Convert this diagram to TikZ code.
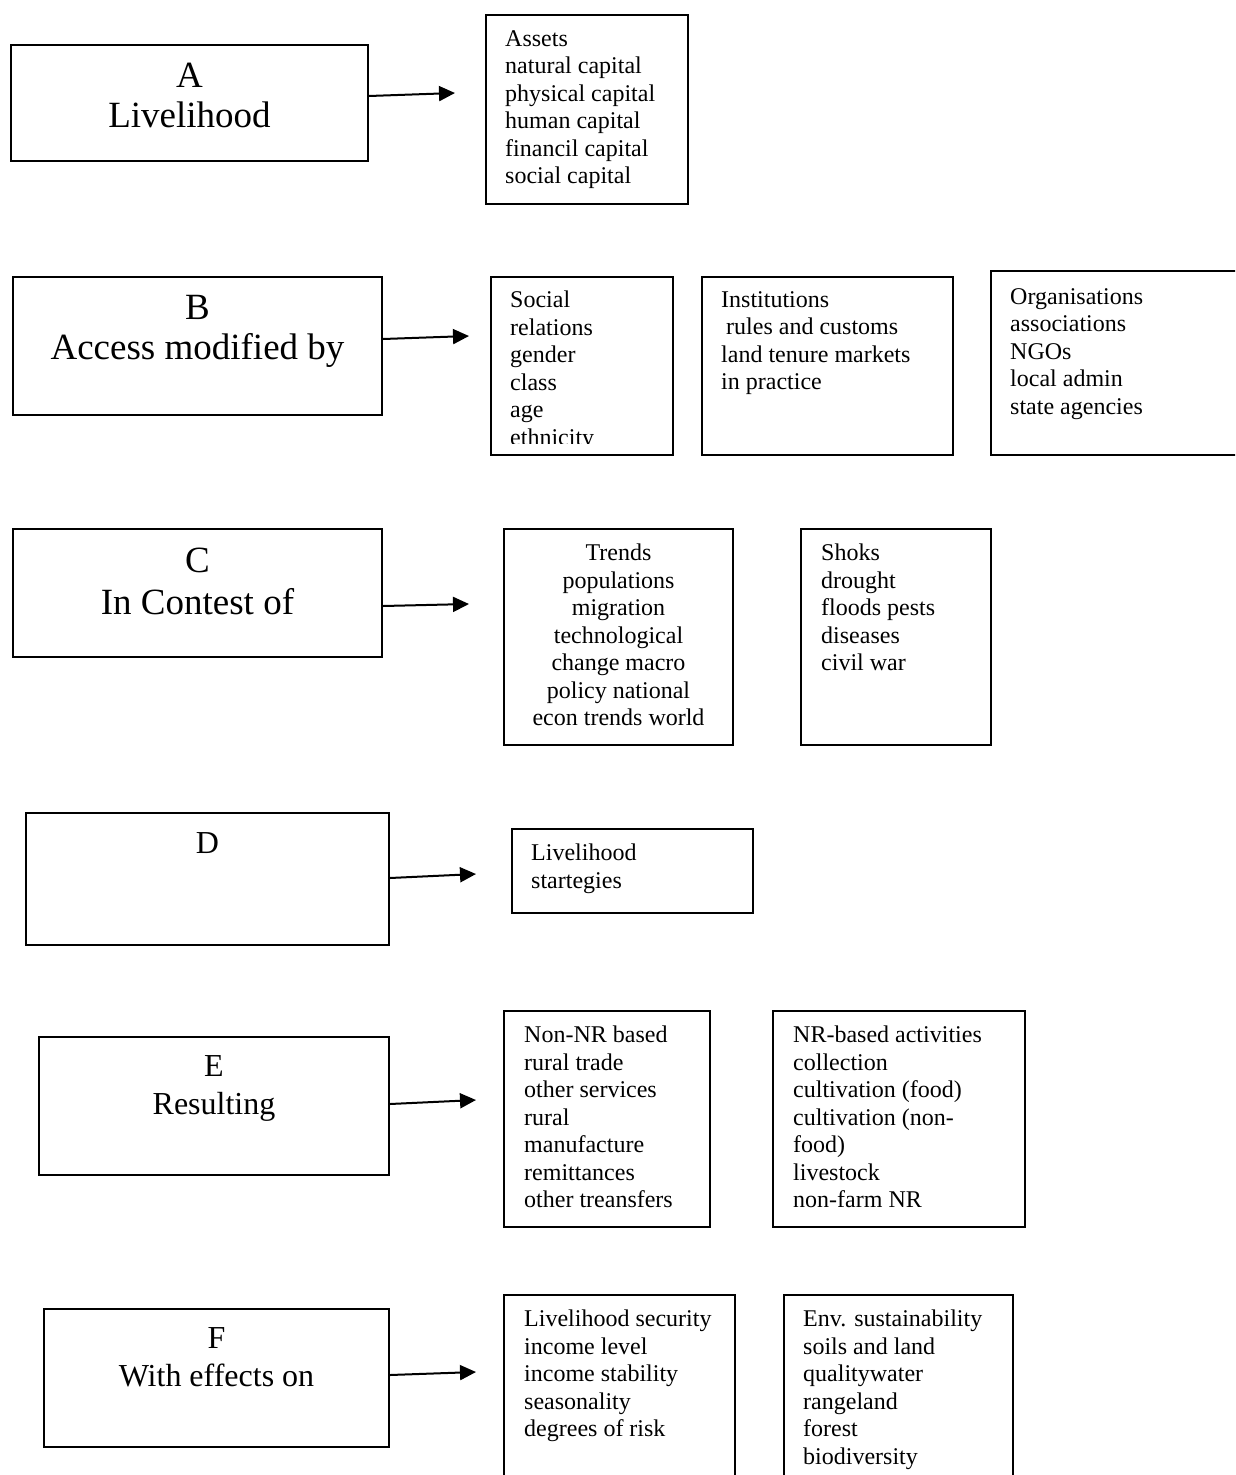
\documentclass[tikz,border=0pt]{standalone}
\usepackage{fontspec}
\setmainfont{Liberation Serif}
\usetikzlibrary{arrows.meta}

\begin{document}
\begin{tikzpicture}[x=1pt, y=-1pt,
    box/.style={draw, line width=2pt, anchor=north west, inner sep=0pt},
    head/.style={anchor=north, align=center, inner sep=0pt, font=\fontsize{37}{40}\selectfont},
    headsmall/.style={head, font=\fontsize{32}{38}\selectfont},
    list/.style={anchor=north west, align=left, inner sep=0pt, font=\fontsize{24}{27.5}\selectfont},
    link/.style={line width=2pt, -{Triangle[length=16pt,width=15pt]}}]

    \useasboundingbox (0,0) rectangle (1235,1475);
    \clip (0,0) rectangle (1235,1475);

    % A
    \node[box, minimum width=357, minimum height=116] (A) at (10,44) {};
    \node[head] (Ahead) at ([yshift=-19pt]A.north) {A\\Livelihood};
    \node[box, minimum width=202, minimum height=189] (assets) at (485,14) {};
    \node[list] (assetsTxt) at ([shift={(20,16)}]assets.north west)
        {Assets\\natural capital\\physical capital\\human capital\\financil capital\\social capital};
    \coordinate (tipA) at (455,93);
    \draw[link] ([yshift=7pt]A.east) -- (tipA);

    % B
    \node[box, minimum width=369, minimum height=138] (B) at (12,276) {};
    \node[head] (Bhead) at ([yshift=-19pt]B.north) {B\\Access modified by};
    \node[box, minimum width=182, minimum height=178] (social) at (490,276) {};
    \begin{scope}
        \clip (490,276) rectangle (672,443);
        \node[list] (socialTxt) at ([shift={(20,15)}]social.north west)
            {Social\\relations\\gender\\class\\age\\ethnicity};
    \end{scope}
    \node[box, minimum width=251, minimum height=178] (inst) at (701,276) {};
    \node[list] (instTxt) at ([shift={(20,15)}]inst.north west)
        {Institutions\\\hspace*{5pt}rules and customs\\land tenure markets\\in practice};
    \node[box, minimum width=270, minimum height=184] (org) at (990,270) {};
    \node[list] (orgTxt) at ([shift={(20,18)}]org.north west)
        {Organisations\\associations\\NGOs\\local admin\\state agencies};
    \coordinate (tipB) at (469,336);
    \draw[link] ([yshift=7pt]B.east) -- (tipB);

    % C
    \node[box, minimum width=369, minimum height=128] (C) at (12,528) {};
    \node[head, font=\fontsize{37}{42}\selectfont] (Chead) at ([yshift=-20pt]C.north) {C\\In Contest of};
    \node[box, minimum width=229, minimum height=216] (trends) at (503,528) {};
    \node[list, anchor=north, align=center] (trendsTxt) at ([yshift=-16pt]trends.north)
        {Trends\\populations\\migration\\technological\\change macro\\policy national\\econ trends world};
    \node[box, minimum width=190, minimum height=216] (shocks) at (800,528) {};
    \node[list] (shocksTxt) at ([shift={(21,16)}]shocks.north west)
        {Shoks\\drought\\floods pests\\diseases\\civil war};
    \coordinate (tipC) at (469,604);
    \draw[link] ([yshift=-13pt]C.east) -- (tipC);

    % D
    \node[box, minimum width=363, minimum height=132] (D) at (25,812) {};
    \node[headsmall] (Dhead) at ([yshift=-20pt]D.north) {D};
    \node[box, minimum width=241, minimum height=84] (strat) at (511,828) {};
    \node[list] (stratTxt) at ([shift={(20,16)}]strat.north west)
        {Livelihood\\startegies};
    \coordinate (tipD) at (476,874);
    \draw[link] ([yshift=1pt]D.east) -- (tipD);

    % E
    \node[box, minimum width=350, minimum height=138] (E) at (38,1036) {};
    \node[headsmall] (Ehead) at ([yshift=-19pt]E.north) {E\\Resulting};
    \node[box, minimum width=206, minimum height=216] (nonnr) at (503,1010) {};
    \node[list] (nonnrTxt) at ([shift={(21,16)}]nonnr.north west)
        {Non-NR based\\rural trade\\other services\\rural\\manufacture\\remittances\\other treansfers};
    \node[box, minimum width=252, minimum height=216] (nr) at (772,1010) {};
    \node[list] (nrTxt) at ([shift={(21,16)}]nr.north west)
        {NR-based activities\\collection\\cultivation (food)\\cultivation (non-\\food)\\livestock\\non-farm NR};
    \coordinate (tipE) at (476,1100);
    \draw[link] ([yshift=2pt]E.east) -- (tipE);

    % F
    \node[box, minimum width=345, minimum height=138] (F) at (43,1308) {};
    \node[headsmall] (Fhead) at ([yshift=-19pt]F.north) {F\\With effects on};
    \node[box, minimum width=231, minimum height=200] (secur) at (503,1294) {};
    \node[list] (securTxt) at ([shift={(21,16)}]secur.north west)
        {Livelihood security\\income level\\income stability\\seasonality\\degrees of risk};
    \node[box, minimum width=229, minimum height=200] (env) at (783,1294) {};
    \node[list] (envTxt) at ([shift={(20,16)}]env.north west)
        {Env. sustainability\\soils and land\\qualitywater\\rangeland\\forest\\biodiversity};
    \coordinate (tipF) at (476,1372);
    \draw[link] ([yshift=3pt]F.east) -- (tipF);
\end{tikzpicture}
\end{document}
